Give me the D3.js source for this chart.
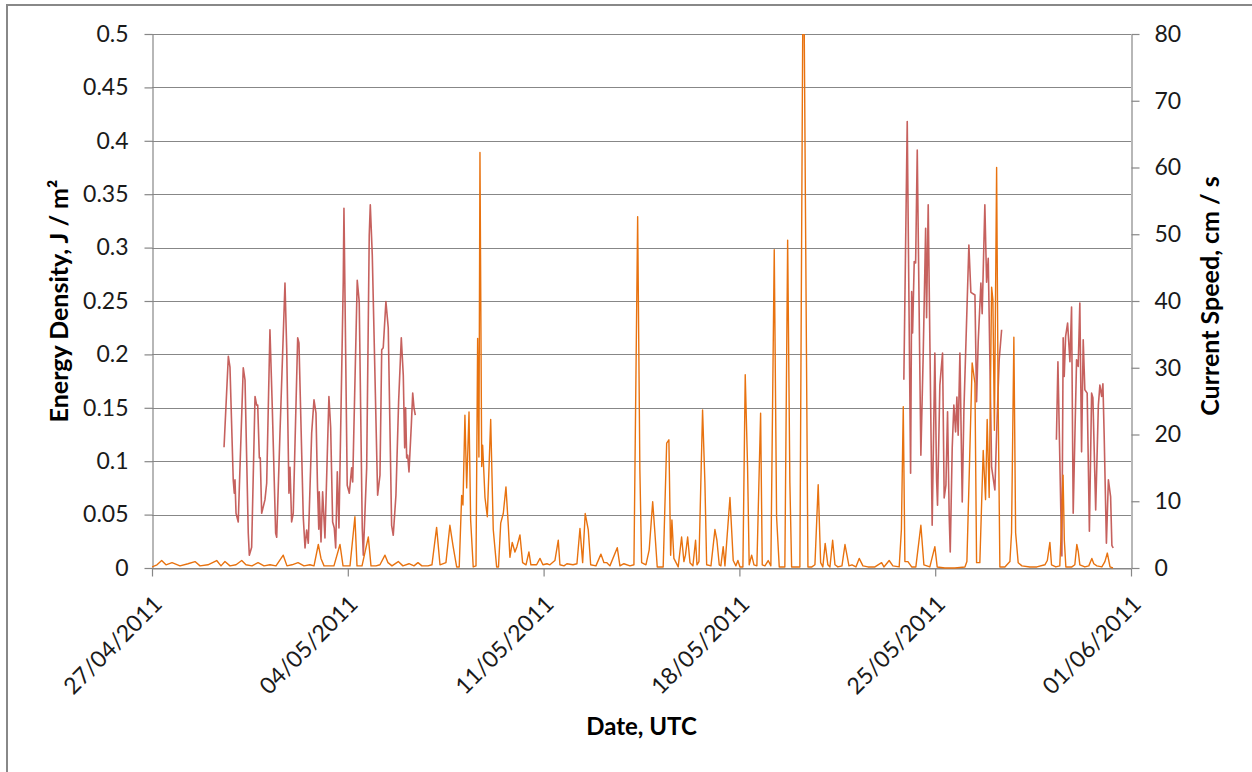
<!DOCTYPE html>
<html><head><meta charset="utf-8">
<script src="https://cdn.jsdelivr.net/npm/d3@7"></script>
<style>body{margin:0;background:#fff}svg{display:block}</style>
</head><body>
<svg id="chart" width="1252" height="772"></svg>
<script>
// ---- data ----
const startDate = Date.UTC(2011, 3, 27);           // 27/04/2011 00:00 UTC
const endDate = Date.UTC(2011, 5, 1);              // 01/06/2011
const xTickDates = ["2011-04-27","2011-05-04","2011-05-11","2011-05-18","2011-05-25","2011-06-01"];
const leftTicks = [0, 0.05, 0.1, 0.15, 0.2, 0.25, 0.3, 0.35, 0.4, 0.45, 0.5];
const rightTicks = [0, 10, 20, 30, 40, 50, 60, 70, 80];

// Energy density (J / m²), time in hours since 27/04/2011 00:00 UTC
const energyHours = [0,4.3,8.3,12,17.2,24,30.9,36.9,41.2,48,55.5,59.2,62.6,66.9,72.1,77,80.6,85.8,91,96.1,101.2,106.4,112.6,115.8,120.1,125.3,130.4,135.5,139,142.7,145,147.6,152.7,156.1,161.3,163.9,169.9,174.1,175.9,180.2,185.6,187.9,192.2,195.6,199.9,202.5,205.9,211.3,215.3,220.5,224.8,228.2,231.6,236.8,240.2,244.2,247.1,252.2,255.6,258.4,261.4,263.6,265.7,266.8,268.5,270,272,273.4,275.6,278,279.4,280.5,281.4,282.9,283.7,285.7,287.7,290.6,292.8,295.7,297.3,299.2,301.4,303.7,305.7,307.1,309.1,311.4,313.1,315.7,318,320.9,323.4,325.1,330,332.9,335.4,338.9,341.4,345.7,348.6,350,353.5,356,361.2,364.6,367.2,369.5,371.7,374.3,376.4,380.9,385.2,387.8,390.3,392.9,399.2,401.5,404.9,410.1,413.5,416.7,418.6,420.1,423.8,426.6,429.6,431.5,433.5,438.6,441.6,443.5,445,446.1,447.8,451.5,454.4,456.4,457.7,459.6,461.6,464.1,466.4,467.6,469.3,472.4,474.4,475.9,479.6,483,484.7,486.7,488.1,490.1,491.6,495.9,498.7,501,502.7,504.5,507,509,511,512.4,514.5,516.5,519,522.2,523.6,525.9,528.7,531,533.9,535.9,538.2,543,545.4,547.3,548.8,555.9,558.9,562.8,566.2,568.8,571.6,573.7,575.6,577.6,579.9,581.7,584,586,588.5,592,594.6,596.3,598,600.6,604,606.8,610,614.3,620.3,626,628,632.5,635.7,641.1,643,644.6,646,648.6,651.8,655.4,659.7,662.3,667.4,671.7,673.7,680.3,688.9,697.5,699.2,701.3,703.7,706.1,707.5,710.3,713.2,715.2,716.6,718.3,720.4,721.5,722.8,724.7,726,727.5,731.8,736.1,737.5,739.5,741,743.2,746.4,753.2,759.2,766.1,768.2,770.4,771.8,775.5,778.9,780.2,781.7,782.8,784.1,789.3,791.8,793.5,794.8,796.1,800.4,803.8,806.4,808.1,810.7,815,817.6,819.7,822,824.5];
const energyValues = [0.001,0.003,0.007,0.003,0.005,0.002,0.004,0.006,0.002,0.003,0.007,0.002,0.006,0.002,0.003,0.007,0.003,0.002,0.005,0.002,0.003,0.002,0.012,0.002,0.003,0.005,0.002,0.003,0.002,0.022,0.009,0.002,0.002,0.002,0.022,0.002,0.002,0.048,0.002,0.002,0.029,0.002,0.002,0.003,0.012,0.005,0.002,0.006,0.002,0.004,0.002,0.005,0.002,0.002,0.003,0.038,0.003,0.005,0.040,0.020,0.001,0.001,0.068,0.059,0.143,0.075,0.146,0.045,0.001,0.002,0.215,0.104,0.389,0.095,0.115,0.066,0.048,0.139,0.036,0.001,0.001,0.042,0.051,0.076,0.040,0.010,0.024,0.015,0.020,0.031,0.005,0.003,0.015,0.003,0.003,0.009,0.003,0.004,0.003,0.007,0.026,0.003,0.002,0.004,0.003,0.004,0.037,0.005,0.051,0.036,0.003,0.002,0.013,0.005,0.005,0.002,0.019,0.002,0.004,0.002,0.003,0.329,0.092,0.005,0.003,0.017,0.062,0.033,0.001,0.001,0.117,0.120,0.012,0.045,0.009,0.001,0.029,0.006,0.012,0.029,0.005,0.002,0.026,0.003,0.006,0.148,0.080,0.003,0.002,0.036,0.026,0.003,0.002,0.020,0.002,0.066,0.007,0.002,0.007,0.001,0.001,0.181,0.095,0.003,0.012,0.003,0.002,0.145,0.003,0.002,0.007,0.002,0.298,0.048,0.001,0.001,0.307,0.080,0.001,0.001,0.62,0.001,0.001,0.003,0.078,0.005,0.001,0.023,0.003,0.001,0.026,0.003,0.001,0.002,0.022,0.012,0.002,0.003,0.001,0.009,0.002,0.001,0.001,0.005,0.001,0.007,0.002,0.001,0.036,0.151,0.006,0.006,0.001,0.001,0.040,0.003,0.001,0.020,0.001,0.000,0.000,0.001,0.006,0.092,0.192,0.173,0.005,0.005,0.110,0.064,0.139,0.066,0.263,0.251,0.129,0.375,0.157,0.001,0.001,0.006,0.033,0.216,0.033,0.005,0.002,0.001,0.001,0.003,0.007,0.024,0.003,0.001,0.002,0.036,0.087,0.026,0.001,0.001,0.003,0.022,0.015,0.003,0.001,0.002,0.009,0.004,0.002,0.001,0.006,0.014,0.001,0.000];

// Current speed (cm / s), three recorded segments, hours since 27/04/2011 00:00 UTC
const speedHours1 = [61.8,65.5,66.9,69.7,70.6,71.2,72.1,74.0,75.5,78.3,79.8,82.6,83.5,85.5,88.4,89.8,90.7,92.1,92.9,94.1,96.9,98.4,101.2,103.2,106.1,107.0,109.8,114.1,115.6,117.5,118.4,119.8,121.2,125.0,126.1,129.8,131.3,132.7,134.1,137.0,139.0,140.7,142.0,143.1,143.5,145.0,146.4,148.4,151.8,153.3,155.0,156.4,157.6,159.0,160.4,164.1,164.7,167.5,169.3,171.3,172.2,176.1,177.8,180.4,181.3,184.2,186.4,187.3,189.0,193.6,195.6,197.1,198.4,200.7,202.7,205.6,207.0,209.3,211.6,213.9,215.6,216.8,217.6,218.5,219.4,220.5,222.5,223.7,224.8,225.9];
const speedValues1 = [18.1,31.7,30.1,13.2,11.2,13.2,8.2,6.9,15.1,30.0,28.2,5.2,1.9,3.1,25.7,24.4,24.4,16.5,16.5,8.2,10.2,12.7,35.7,24.1,5.2,4.6,20.2,42.7,32.7,11.2,15.1,6.9,8.2,34.5,33.7,7.6,3.0,5.7,3.7,20.2,25.2,23.2,12.1,5.8,11.4,3.9,11.4,4.5,25.7,21.0,6.9,6.0,3.0,14.4,6.0,42.9,53.9,12.4,11.2,15.0,12.9,43.1,39.9,6.0,1.9,15.0,49.9,54.4,46.9,10.9,13.9,32.7,33.0,39.9,36.0,6.4,4.9,10.9,24.9,34.5,28.9,18.0,24.0,16.5,16.9,14.4,21.4,26.2,24.0,22.9];
const speedHours2 = [645.1,648.0,650.9,651.8,652.6,654.0,655.2,656.6,659.7,661.7,663.8,664.6,666.0,667.5,669.4,671.7,673.2,674.0,676.0,678.3,679.7,681.2,682.6,684.0,684.9,686.6,688.0,689.5,690.6,691.7,693.2,695.2,696.6,700.9,702.6,706.1,707.5,708.9,711.2,712.3,714.6,716.1,717.5,720.4,723.2,724.7,726.9,729.0];
const speedValues2 = [28.2,66.9,14.2,41.4,35.2,45.9,45.7,62.6,16.9,31.9,50.9,37.5,54.4,33.0,6.4,32.2,13.2,9.4,27.4,32.2,10.5,12.4,23.4,7.9,2.4,18.0,24.4,20.4,25.6,19.9,32.2,9.9,23.4,48.4,41.3,40.9,24.9,33.9,42.7,38.1,54.4,42.8,46.4,15.1,11.7,20.2,31.2,35.7];
const speedHours3 = [776.0,777.3,780.1,780.7,781.8,782.7,783.9,785.6,787.6,789.0,790.4,793.3,794.7,796.1,797.6,799.0,800.4,802.4,804.3,806.2,807.3,809.7,812.0,813.3,814.8,815.9,817.0,818.9,820.6,822.5,823.6,824.7];
const speedValues3 = [19.2,30.9,5.7,1.8,34.5,28.7,34.7,36.7,30.9,39.1,8.2,31.2,30.2,39.7,17.4,34.2,26.7,26.2,5.5,26.2,25.5,8.7,24.4,27.4,25.7,27.6,19.7,3.7,13.2,10.7,3.4,3.0];

// ---- chart ----
const W = 1252, H = 772;
const m = {left: 152, right: 1131, top: 34, bottom: 568};
const FONT = "Lato, 'Open Sans', sans-serif";
const GRID = "#878787";
const svg = d3.select("#chart");

const toDate = h => new Date(startDate + h * 3600e3);
const x = d3.scaleUtc().domain([new Date(startDate), new Date(endDate)]).range([m.left, m.right]);
const yL = d3.scaleLinear().domain([0, 0.5]).range([m.bottom, m.top]);
const yR = d3.scaleLinear().domain([0, 80]).range([m.bottom, m.top]);

// outer frame
svg.append("rect").attr("x", 7).attr("y", 5).attr("width", W + 10).attr("height", H + 10)
  .attr("fill", "#fff").attr("stroke", "#888").attr("stroke-width", 2);

// gridlines
svg.append("g").selectAll("line").data(leftTicks).join("line")
  .attr("x1", m.left).attr("x2", m.right)
  .attr("y1", d => Math.round(yL(d)) + 0.5).attr("y2", d => Math.round(yL(d)) + 0.5)
  .attr("stroke", GRID).attr("stroke-width", 1.2);

function styleAxis(g) {
  g.select(".domain").attr("stroke", GRID).attr("stroke-width", 1.2);
  g.selectAll(".tick line").attr("stroke", GRID).attr("stroke-width", 1.2);
  g.selectAll("text").attr("font-family", FONT).attr("font-size", 23).attr("fill", "#1a1a1a");
}

// left axis
svg.append("g").attr("transform", `translate(${m.left + 0.5},0)`)
  .call(d3.axisLeft(yL).tickValues(leftTicks).tickSize(8).tickSizeOuter(0).tickPadding(16).tickFormat(d => String(d)))
  .call(styleAxis);

// right axis
svg.append("g").attr("transform", `translate(${m.right + 0.5},0)`)
  .call(d3.axisRight(yR).tickValues(rightTicks).tickSize(8).tickSizeOuter(0).tickPadding(15).tickFormat(d => String(d)))
  .call(styleAxis);

// bottom axis
const fmt = d3.utcFormat("%d/%m/%Y");
const gx = svg.append("g").attr("transform", `translate(0,${m.bottom + 0.5})`)
  .call(d3.axisBottom(x).tickValues(xTickDates.map(s => new Date(s + "T00:00:00Z"))).tickSize(8).tickSizeOuter(0).tickFormat(fmt))
  .call(styleAxis);
gx.selectAll(".tick text")
  .attr("y", 0).attr("dy", 0).attr("x", 0)
  .attr("text-anchor", "end")
  .attr("transform", "translate(11,37) rotate(-45)");

// clip
svg.append("clipPath").attr("id", "plotclip").append("rect")
  .attr("x", m.left).attr("y", m.top).attr("width", m.right - m.left).attr("height", m.bottom - m.top + 3);

const plot = svg.append("g").attr("clip-path", "url(#plotclip)");

const lineR = d3.line().x(d => x(toDate(d[0]))).y(d => yR(d[1]));
[[speedHours1, speedValues1], [speedHours2, speedValues2], [speedHours3, speedValues3]].forEach(([hs, vs]) => {
  plot.append("path").datum(d3.zip(hs, vs)).attr("d", lineR)
    .attr("fill", "none").attr("stroke", "#C0504D").attr("stroke-width", 1.6)
    .attr("stroke-linejoin", "round").attr("stroke-opacity", 0.9);
});

const lineL = d3.line().x(d => x(toDate(d[0]))).y(d => yL(d[1]));
plot.append("path").datum(d3.zip(energyHours, energyValues)).attr("d", lineL)
  .attr("fill", "none").attr("stroke", "#E8720F").attr("stroke-width", 1.4)
  .attr("stroke-linejoin", "round");

// axis titles
svg.append("text").attr("transform", `translate(68,${(m.top + m.bottom) / 2}) rotate(-90)`)
  .attr("text-anchor", "middle").attr("font-family", FONT).attr("font-weight", "bold")
  .attr("font-size", 25).text("Energy Density, J / m²");
svg.append("text").attr("transform", `translate(1219,${(m.top + m.bottom) / 2 - 5}) rotate(-90)`)
  .attr("text-anchor", "middle").attr("font-family", FONT).attr("font-weight", "bold")
  .attr("font-size", 25).text("Current Speed, cm / s");
svg.append("text").attr("x", (m.left + m.right) / 2).attr("y", 735)
  .attr("text-anchor", "middle").attr("font-family", FONT).attr("font-weight", "bold")
  .attr("font-size", 24).text("Date, UTC");
</script>
</body></html>
